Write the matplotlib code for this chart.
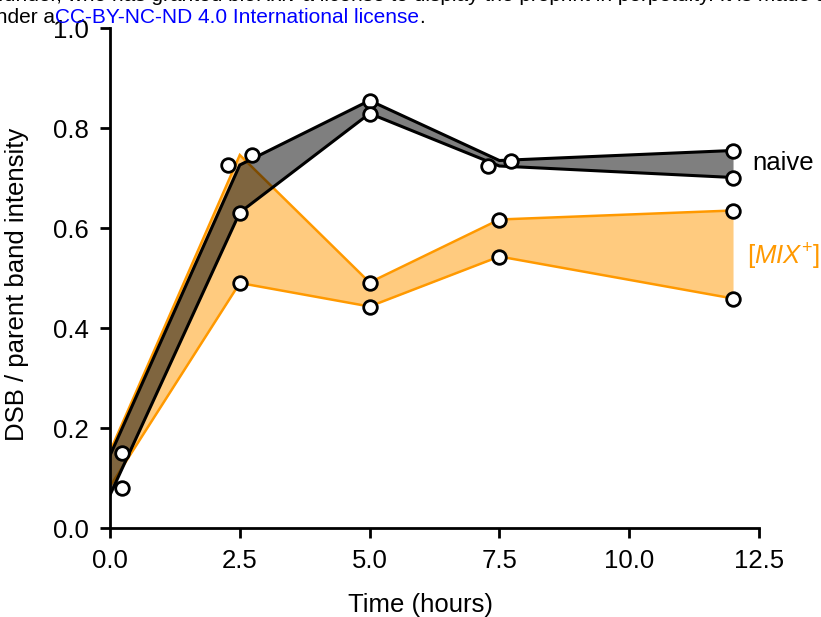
import matplotlib
matplotlib.use("Agg")
import matplotlib.pyplot as plt

plt.rcParams['font.family'] = ['Liberation Sans', 'DejaVu Sans']
plt.rcParams['mathtext.fontset'] = 'custom'
plt.rcParams['mathtext.it'] = 'Liberation Sans:italic'
plt.rcParams['mathtext.rm'] = 'Liberation Sans'

# ---- data ----
times = [0, 2.5, 5, 7.5, 12]
naive_upper = [0.145, 0.726, 0.855, 0.735, 0.755]
naive_lower = [0.066, 0.631, 0.829, 0.724, 0.701]
mix_upper = [0.153, 0.746, 0.491, 0.617, 0.635]
mix_lower = [0.083, 0.490, 0.443, 0.543, 0.459]

dot_x = [0.24, 0.24, 2.28, 2.73, 2.5, 2.5, 5, 5, 5, 5,
         7.29, 7.72, 7.5, 7.5, 12, 12, 12, 12]
dot_y = [0.151, 0.081, 0.726, 0.746, 0.631, 0.490, 0.855, 0.829, 0.491, 0.443,
         0.724, 0.735, 0.617, 0.543, 0.755, 0.701, 0.635, 0.459]

x_ticks = [0.0, 2.5, 5.0, 7.5, 10.0, 12.5]
y_ticks = [0.0, 0.2, 0.4, 0.6, 0.8, 1.0]

ORANGE = '#ff9900'
FS = 18.5

fig = plt.figure(figsize=(8.21, 6.17), dpi=100)
ax = fig.add_axes([110/821, 89/617, 649/821, 500/617])
ax.set_xlim(0, 12.5)
ax.set_ylim(0, 1.0)

# MIX+ band
ax.fill_between(times, mix_lower, mix_upper, color=ORANGE, alpha=0.5, lw=0, zorder=1)
ax.plot(times, mix_upper, color=ORANGE, lw=1.8, zorder=2, solid_joinstyle='miter')
ax.plot(times, mix_lower, color=ORANGE, lw=1.8, zorder=2, solid_joinstyle='miter')
# naive band
ax.fill_between(times, naive_lower, naive_upper, color='black', alpha=0.5, lw=0, zorder=3)
ax.plot(times, naive_upper, color='black', lw=2.2, zorder=4, solid_joinstyle='miter')
ax.plot(times, naive_lower, color='black', lw=2.2, zorder=4, solid_joinstyle='miter')

ax.plot(dot_x, dot_y, 'o', ms=9.8, mfc='white', mec='black', mew=2.0, zorder=5, clip_on=False)

ax.text(12.38, 0.73, 'naive', fontsize=FS, color='black', va='center', ha='left')
ax.text(12.27, 0.543, r'[$\mathit{MIX}^{+}$]', fontsize=FS, color=ORANGE,
        va='center', ha='left')

for s in ['top', 'right']:
    ax.spines[s].set_visible(False)
for s in ['left', 'bottom']:
    ax.spines[s].set_linewidth(2.0)
ax.set_xticks(x_ticks)
ax.set_yticks(y_ticks)
ax.set_xticklabels([f'{v:.1f}' for v in x_ticks])
ax.set_yticklabels([f'{v:.1f}' for v in y_ticks])
ax.tick_params(direction='out', length=7.5, width=2.0, labelsize=FS, pad=7.5)
ax.set_xlabel('Time (hours)', fontsize=FS)
ax.set_ylabel('DSB / parent band intensity', fontsize=FS)
ax.xaxis.set_label_coords(0.478, -0.13)
ax.yaxis.set_label_coords(-0.125, 0.488)

# header text from the preprint page
fig.text(-2/821, 1 - 1/617, 'funder, who has granted bioRxiv a license to display the preprint in perpetuity. It is made available',
         fontsize=15, color='black', ha='left', va='baseline')
fig.text(55/821, 1 - 23/617, 'under a', fontsize=15, color='black', ha='right', va='baseline')
lic = fig.text(55/821, 1 - 23/617, 'CC-BY-NC-ND 4.0 International license', fontsize=15, color='blue',
               ha='left', va='baseline')
fig.canvas.draw()
bb = lic.get_window_extent()
fig.text(bb.x1 / fig.bbox.width, 1 - 23/617, '.', fontsize=15, color='black', ha='left', va='baseline')

fig.savefig('out.png', dpi=100)
